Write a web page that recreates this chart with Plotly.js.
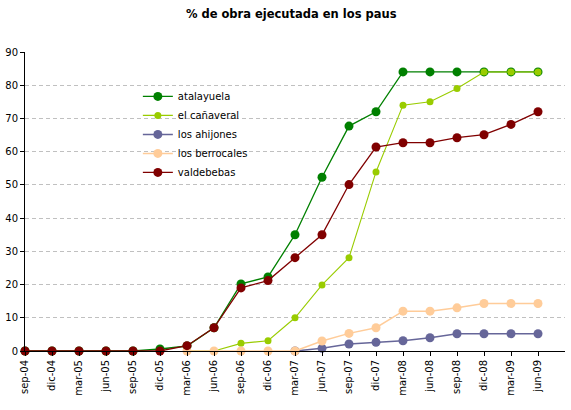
<!DOCTYPE html>
<html>
<head>
<meta charset="utf-8">
<script src="https://cdn.plot.ly/plotly-3.0.1.min.js"></script>
<style>html,body{margin:0;padding:0;background:#fff;}#chart{width:571px;height:410px;}</style>
</head>
<body>
<div id="chart"></div>
<script>
var categories = ["sep-04","dic-04","mar-05","jun-05","sep-05","dic-05","mar-06","jun-06","sep-06","dic-06",
                  "mar-07","jun-07","sep-07","dic-07","mar-08","jun-08","sep-08","dic-08","mar-09","jun-09"];

var atalayuela  = [0,0,0,0,0,0.6,1.5,7,20.2,22.3,35,52.3,67.7,72,84,84,84,84,84,84];
var elCanaveral = [null,null,null,null,null,null,0,0,2.3,3.1,10,19.9,28.1,53.9,74,75,79,84,84,84];
var losAhijones = [null,null,null,null,null,null,null,null,null,null,0,0.8,2.1,2.6,3.1,4,5.2,5.2,5.2,5.2];
var losBerrocales = [null,null,null,null,null,null,0,0,0,0,0,3,5.3,7,12,12,13,14.3,14.3,14.3];
var valdebebas  = [0,0,0,0,0,0,1.6,7,19,21.2,28.1,35,50.1,61.4,62.7,62.7,64.2,65.1,68.2,72];

var yTicks = [0,10,20,30,40,50,60,70,80,90];

function series(name, values, color, msize, lw) {
  return {
    type: 'scatter', mode: 'lines+markers', name: name,
    x: categories, y: values,
    line: {color: color, width: lw},
    marker: {color: color, size: msize, symbol: 'circle'},
    cliponaxis: false, connectgaps: false, hoverinfo: 'skip'
  };
}

var data = [
  series('atalayuela', atalayuela, '#008000', 9, 1.3),
  series('el cañaveral', elCanaveral, '#99CC00', 7, 1.1),
  series('los ahijones', losAhijones, '#666699', 9, 1.5),
  series('los berrocales', losBerrocales, '#FFCC99', 9, 1.5),
  series('valdebebas', valdebebas, '#800000', 9, 1.3)
];

var font = 'DejaVu Sans, Verdana, sans-serif';

var layout = {
  width: 571, height: 410,
  margin: {l: 25, r: 6, t: 52, b: 59, pad: 0},
  paper_bgcolor: '#ffffff', plot_bgcolor: '#ffffff',
  font: {family: font, size: 10, color: '#000000'},
  title: {text: '<b>% de obra ejecutada en los paus</b>', x: 0.51, xanchor: 'center',
          y: 0.966, yanchor: 'middle', font: {family: font, size: 11.5, color: '#000'}},
  showlegend: true,
  legend: {x: 0.209, xanchor: 'left', y: 0.9, yanchor: 'top', bgcolor: 'rgba(255,255,255,0)',
           borderwidth: 0, font: {family: font, size: 10, color: '#000'}, tracegroupgap: 0},
  xaxis: {
    type: 'category', range: [0, 20], showgrid: false, zeroline: false,
    showline: true, linecolor: '#000', linewidth: 1,
    ticks: 'outside', ticklen: 4, tickcolor: '#000', tickwidth: 1,
    tickangle: -90, tickfont: {family: font, size: 10, color: '#000'}
  },
  yaxis: {
    range: [0, 90], tickvals: yTicks, ticktext: yTicks.map(String),
    showgrid: true, gridcolor: '#C0C0C0', gridwidth: 1, griddash: '4px,3px',
    zeroline: false, showline: true, linecolor: '#000', linewidth: 1,
    ticks: 'outside', ticklen: 4, tickcolor: '#000', tickwidth: 1,
    tickfont: {family: font, size: 10, color: '#000'}
  }
};

Plotly.newPlot('chart', data, layout, {staticPlot: true, displayModeBar: false});
</script>
</body>
</html>
